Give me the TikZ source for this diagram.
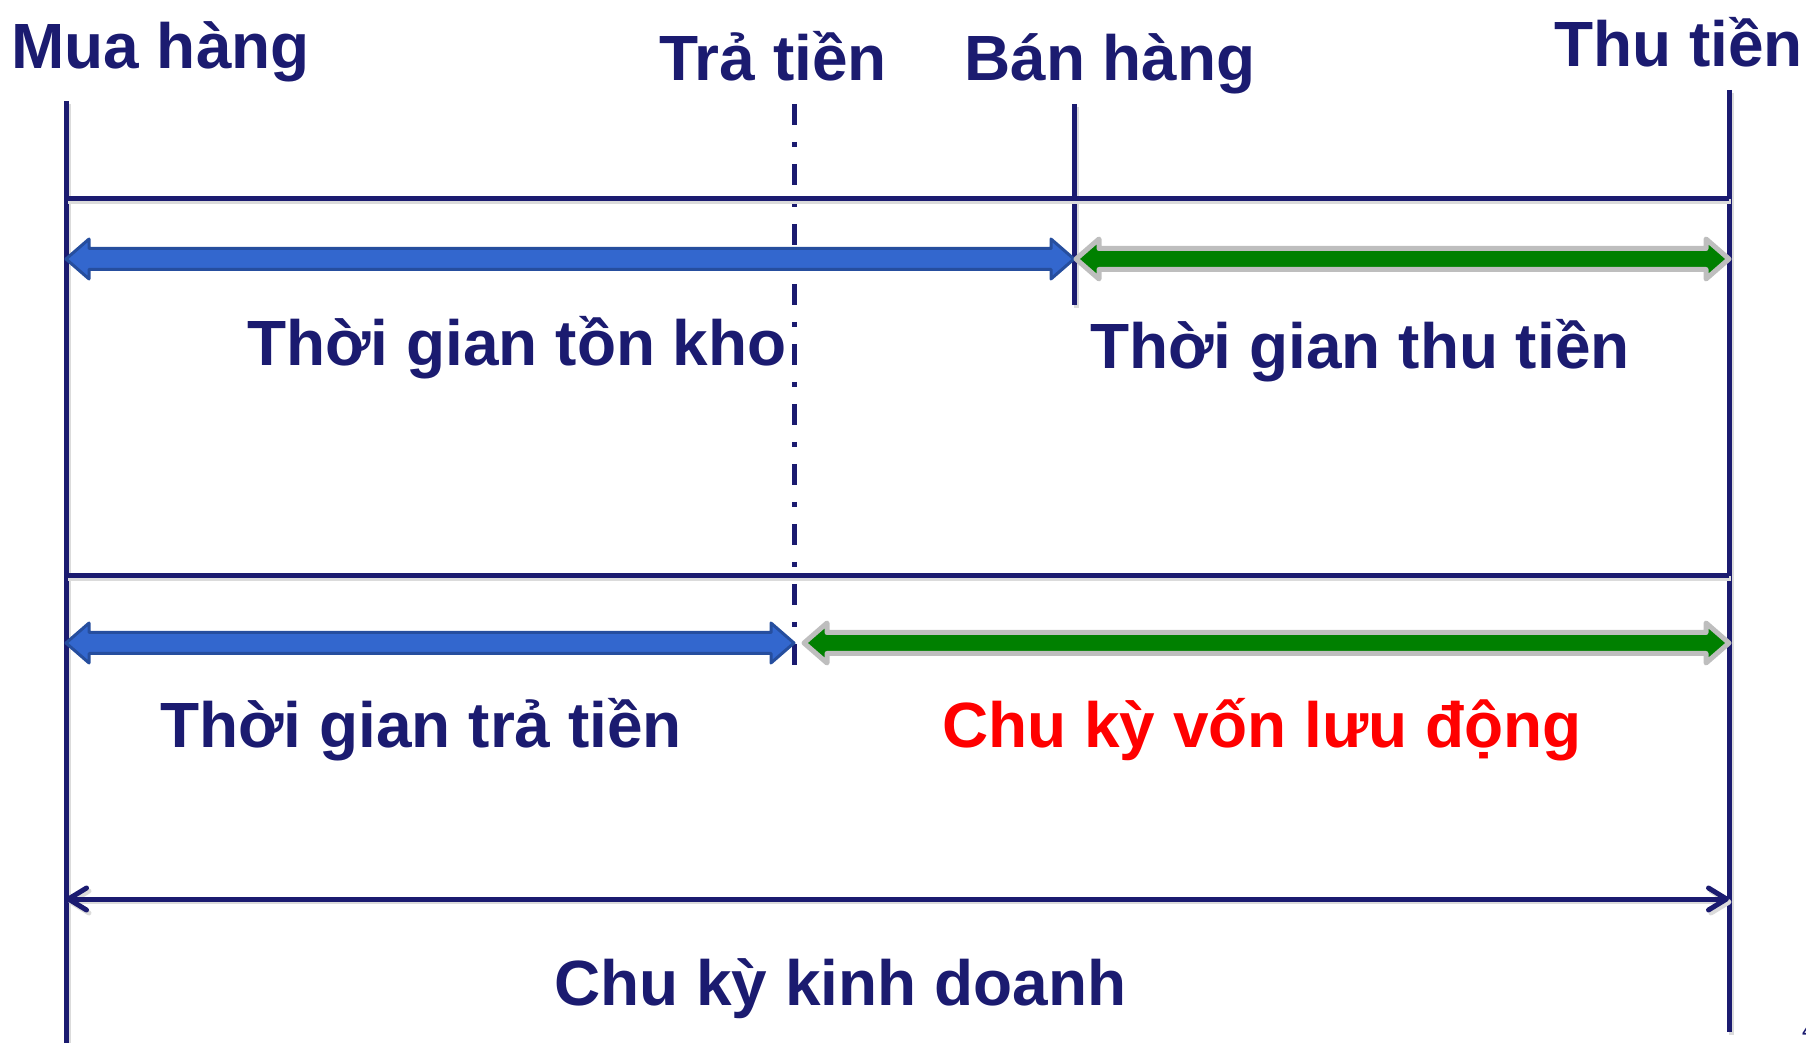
\documentclass[tikz,border=0pt]{standalone}
\usepackage{fontspec}
\setmainfont{Liberation Sans}
\usetikzlibrary{arrows.meta}
\definecolor{navy}{RGB}{27,27,112}
\definecolor{barblue}{RGB}{51,103,206}
\definecolor{barblueedge}{RGB}{38,78,158}
\definecolor{bargreen}{RGB}{0,128,0}
\definecolor{bargray}{RGB}{190,190,190}
\tikzset{
  mark line/.style={navy,line width=0.1cm,
    preaction={draw=black!14,line width=0.1cm,transform canvas={xshift=1.4pt,yshift=-1.7pt}}},
  lbl/.style={anchor=base west,inner sep=0pt,text=navy,font=\fontsize{36.4pt}{40pt}\selectfont\bfseries},
  bluebar/.style={fill=barblue,draw=barblueedge,line width=0.06cm,line join=round},
  greenbar/.style={fill=bargreen,draw=bargray,line width=0.1cm,line join=round}
}
\begin{document}
\begin{tikzpicture}[x=0.02cm,y=-0.02cm]
\useasboundingbox (0,0) rectangle (1806,1043);
% x of the four events
\def\xMua{66} \def\xTra{794} \def\xBan{1074} \def\xThu{1729}
% block arrow from #1 to #2 at height #3
\def\spanArrow#1#2#3#4{%
  \draw[#4] (#1,#3) -- (#1+23,#3-20) -- (#1+23,#3-10.5) -- (#2-23,#3-10.5) -- (#2-23,#3-20)
    -- (#2,#3) -- (#2-23,#3+20) -- (#2-23,#3+10.5) -- (#1+23,#3+10.5) -- (#1+23,#3+20) -- cycle;}
% event labels
\node[lbl] (mua) at (11,69) {Mua hàng};
\node[lbl] (tra) at (659,81) {Trả tiền};
\node[lbl] (ban) at (964,81) {Bán hàng};
\node[lbl] (thu) at (1554,67) {Thu tiền};
% event lines
\draw[mark line] (\xMua,101) -- (\xMua,1050);
\draw[mark line] (\xThu,90) -- (\xThu,1032);
\draw[mark line] (\xBan,104) -- (\xBan,305);
\draw[navy,line width=0.1cm,dash pattern=on 0.42cm off 0.34cm on 0.1cm off 0.34cm] (\xTra,104) -- (\xTra,676);
% period rows
\draw[mark line] (\xMua,199) -- (\xThu,199);
\draw[mark line] (\xMua,576) -- (\xThu,576);
\spanArrow{\xMua}{\xBan}{259}{bluebar}
\spanArrow{\xBan+2}{\xThu}{259}{greenbar}
\spanArrow{\xMua}{\xTra}{643}{bluebar}
\spanArrow{\xTra+10}{\xThu}{643}{greenbar}
\draw[mark line,{Straight Barb[length=0.36cm,width=0.44cm,round]}-{Straight Barb[length=0.36cm,width=0.44cm,round]}]
  (\xMua,899) -- (\xThu,899);
% period labels
\node[lbl] (tonkho) at (247,366) {Thời gian tồn kho};
\node[lbl] (thutien) at (1090,369) {Thời gian thu tiền};
\node[lbl] (tratien) at (160,747) {Thời gian trả tiền};
\node[lbl,text=red] (vld) at (942,747) {Chu kỳ vốn lưu động};
\node[lbl] (kd) at (554,1005) {Chu kỳ kinh doanh};
\node[lbl,font=\fontsize{9.7pt}{11pt}\selectfont\bfseries] (page) at (1802,1037) {4};
\end{tikzpicture}
\end{document}
